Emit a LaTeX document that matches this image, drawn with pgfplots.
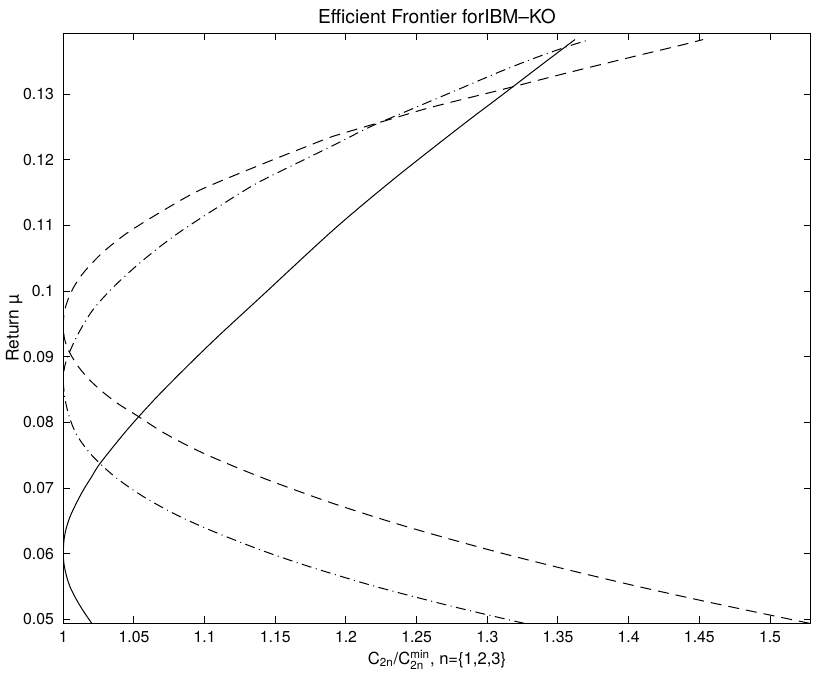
\documentclass[border=0pt]{standalone}
\usepackage{amsmath}
\usepackage{fontspec}
\setmainfont{TeX Gyre Heros}
\usepackage{pgfplots}
\pgfplotsset{compat=1.18}
\begin{document}
\begin{tikzpicture}
\useasboundingbox (0,0) rectangle (408.5pt,341pt);
\begin{axis}[
  at={(31.65pt,29.35pt)}, anchor=south west,
  scale only axis, width=373.7pt, height=295pt,
  xmin=1, xmax=1.5288, ymin=0.0494, ymax=0.13925,
  axis line style={line width=0.5pt},
  tick align=inside, major tick length=3.5pt,
  tick style={line width=0.5pt, black},
  xtick={1,1.05,1.1,1.15,1.2,1.25,1.3,1.35,1.4,1.45,1.5},
  xticklabels={1,1.05,1.1,1.15,1.2,1.25,1.3,1.35,1.4,1.45,1.5},
  ytick={0.05,0.06,0.07,0.08,0.09,0.1,0.11,0.12,0.13},
  yticklabels={0.05,0.06,0.07,0.08,0.09,0.1,0.11,0.12,0.13},
  tick label style={font=\fontsize{7.9}{9}\selectfont},
  xticklabel style={anchor=center, yshift=-7pt},
  yticklabel style={anchor=east, xshift=-1.2pt},
  every axis title shift=0pt,
  title={Efficient Frontier forIBM--KO},
  title style={at={(axis description cs:0.5,1.0288)}, anchor=center, yshift=0pt, font=\fontsize{9.6}{11}\selectfont, inner sep=0pt},
  xlabel={C\textsubscript{2n}/C$^{\text{min}}_{\text{2n}}$, n=\{1,2,3\}},
  xlabel style={at={(axis description cs:0.5,-0.062)}, anchor=center, font=\fontsize{8.3}{10}\selectfont, inner sep=0pt},
  ylabel={Return µ},
  ylabel style={at={(axis description cs:-0.0656,0.5)}, anchor=center, font=\fontsize{8.7}{10}\selectfont, inner sep=0pt},
]
% n=1 solid
\addplot[black, line width=0.5pt, smooth] table[x=x, y=y] {
x y
1.0201 0.0494
1.0135 0.0515
1.0083 0.0534
1.0045 0.0551
1.0024 0.0565
1.0008 0.0580
1.0001 0.0592
1.0000 0.0602
1.0005 0.0621
1.0020 0.0638
1.0047 0.0656
1.0090 0.0676
1.0142 0.0697
1.0200 0.0717
1.0262 0.0738
1.0449 0.0788
1.0650 0.0836
1.0870 0.0884
1.1100 0.0932
1.1392 0.0990
1.1910 0.1093
1.2335 0.1170
1.2807 0.1250
1.3089 0.1296
1.3350 0.1339
1.3620 0.1383
};
% n=2 dashed
\addplot[black, line width=0.5pt, smooth, dash pattern=on 5.5pt off 3.5pt] table[x=x, y=y] {
x y
1.5280 0.0494
1.4593 0.0525
1.4068 0.0550
1.3580 0.0575
1.3116 0.0600
1.2690 0.0625
1.2293 0.0650
1.1862 0.0680
1.1392 0.0717
1.0991 0.0753
1.0720 0.0783
1.0531 0.0809
1.0390 0.0828
1.0275 0.0847
1.0180 0.0866
1.0106 0.0885
1.0048 0.0905
1.0015 0.0922
1.0002 0.0937
1.0000 0.0950
1.0004 0.0963
1.0019 0.0978
1.0046 0.0994
1.0085 0.1010
1.0147 0.1029
1.0260 0.1055
1.0369 0.1075
1.0483 0.1093
1.0710 0.1123
1.0969 0.1154
1.1392 0.1192
1.1720 0.1220
1.1900 0.1235
1.2100 0.1248
1.2335 0.1263
1.2571 0.1278
1.2807 0.1291
1.3089 0.1306
1.3561 0.1332
1.4033 0.1357
1.4363 0.1374
1.4527 0.1383
};
% n=3 dash-dot
\addplot[black, line width=0.5pt, smooth, dash pattern=on 5pt off 2.25pt on 0.5pt off 2.25pt] table[x=x, y=y] {
x y
1.3260 0.0494
1.2747 0.0520
1.2210 0.0550
1.1746 0.0580
1.1392 0.0606
1.1038 0.0636
1.0802 0.0659
1.0566 0.0687
1.0366 0.0717
1.0201 0.0750
1.0095 0.0781
1.0040 0.0810
1.0012 0.0836
1.0001 0.0858
1.0000 0.0870
1.0012 0.0887
1.0040 0.0905
1.0108 0.0936
1.0208 0.0971
1.0345 0.1004
1.0510 0.1037
1.0680 0.1067
1.0845 0.1093
1.1110 0.1130
1.1368 0.1164
1.1675 0.1197
1.1958 0.1227
1.2170 0.1250
1.2453 0.1276
1.2783 0.1306
1.3089 0.1334
1.3325 0.1354
1.3561 0.1372
1.3726 0.1383
};
\end{axis}
\end{tikzpicture}
\end{document}
